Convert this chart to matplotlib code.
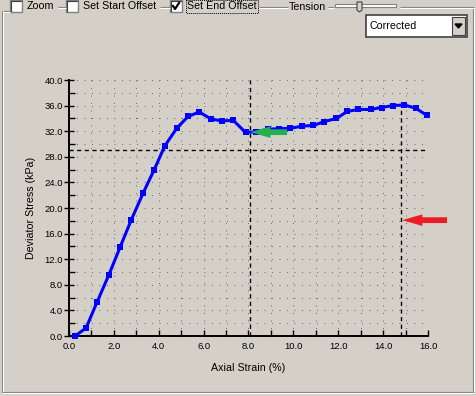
import matplotlib
matplotlib.use("Agg")
import matplotlib.pyplot as plt
from matplotlib.patches import Rectangle, Polygon, FancyArrow
from matplotlib.ticker import MultipleLocator, FormatStrFormatter

# Axial strain (%) and deviator stress (kPa)
strain = [0.27, 0.76, 1.25, 1.77, 2.28, 2.77, 3.30, 3.80, 4.27, 4.81, 5.31,
          5.80, 6.34, 6.83, 7.32, 7.87, 8.35, 8.86, 9.38, 9.87, 10.40, 10.89,
          11.38, 11.92, 12.41, 12.90, 13.44, 13.93, 14.42, 14.94, 15.45, 15.94]
stress = [0.0, 1.25, 5.3, 9.5, 13.9, 18.1, 22.3, 26.0, 29.7, 32.5, 34.3,
          35.0, 33.9, 33.6, 33.7, 31.8, 31.9, 32.3, 32.4, 32.45, 32.8, 32.9,
          33.5, 34.0, 35.1, 35.4, 35.4, 35.7, 36.0, 36.1, 35.6, 34.5]

# reference (offset) lines
start_x = 8.08
end_x = 14.78
end_top = 36.0
level_y = 29.0
level_x_end = 15.88

# hand-drawn arrows: (tip_x, tip_y, tail_x)
green_arrow = (8.08, 31.85, 9.72)
red_arrow = (14.85, 18.1, 16.85)

BG = "#d4d0c8"
W, H = 477, 396

plt.rcParams["font.family"] = ["Liberation Sans", "DejaVu Sans"]

fig = plt.figure(figsize=(W / 100, H / 100), dpi=100, facecolor=BG)

# --- dialog chrome in pixel coordinates ---
ui = fig.add_axes([0, 0, 1, 1], zorder=0)
ui.set_xlim(0, W)
ui.set_ylim(H, 0)
ui.axis("off")
ui.set_facecolor(BG)


def hline(x0, x1, y):
    ui.plot([x0, x1], [y, y], color="#808080", lw=0.8, solid_capstyle="butt")
    ui.plot([x0, x1], [y + 1, y + 1], color="white", lw=0.8, solid_capstyle="butt")


def vline(x, y0, y1):
    ui.plot([x, x], [y0, y1], color="#808080", lw=0.8, solid_capstyle="butt")
    ui.plot([x + 1, x + 1], [y0, y1], color="white", lw=0.8, solid_capstyle="butt")


# group box
hline(2, 10, 11)
vline(2, 11, 392)
hline(2, 474, 392)
vline(473, 7, 392)
hline(58, 66, 7)
hline(160, 170, 7)
hline(259, 288, 7)
hline(328, 334, 7)
hline(400, 474, 7)


def checkbox(x, y, checked=False):
    ui.add_patch(Rectangle((x, y), 12, 12, facecolor="white", edgecolor="#808080", lw=1))
    ui.plot([x + 1, x + 1, x + 11], [y + 11, y + 1, y + 1], color="#404040", lw=0.8)
    if checked:
        ui.plot([x + 3, x + 5, x + 9], [y + 6, y + 9, y + 3], color="black", lw=1.6)


checkbox(10, 0)
ui.text(27, 6, "Zoom", fontsize=7.7, va="center", ha="left")
checkbox(66, 0)
ui.text(83, 6, "Set Start Offset", fontsize=7.7, va="center", ha="left")
checkbox(170, 0, checked=True)
ui.text(187, 6, "Set End Offset", fontsize=7.7, va="center", ha="left")
ui.add_patch(Rectangle((186, 0), 72, 13, facecolor="none", edgecolor="black",
                       lw=0.7, linestyle=(0, (1, 1))))
ui.text(289, 7, "Tension", fontsize=7.7, va="center", ha="left")

# slider
ui.add_patch(Rectangle((335, 4), 61, 3, facecolor="white", edgecolor="#808080", lw=0.8))
ui.add_patch(Polygon([(357, 2), (362, 2), (362, 10), (359.5, 12), (357, 10)],
                     closed=True, facecolor=BG, edgecolor="#404040", lw=0.8))

# combo box
ui.add_patch(Rectangle((366, 15), 101, 22, facecolor="white", edgecolor="#404040", lw=1.2))
ui.add_patch(Rectangle((452, 17), 13, 18, facecolor=BG, edgecolor="#404040", lw=0.8))
ui.add_patch(Polygon([(455, 24), (462, 24), (458.5, 28)], closed=True, color="black"))
ui.text(370, 26, "Corrected", fontsize=7.7, va="center", ha="left")

# --- chart ---
x0, x1, yb, yt = 69, 428, 336, 80
ax = fig.add_axes([x0 / W, 1 - yb / H, (x1 - x0) / W, (yb - yt) / H], zorder=1)
ax.set_facecolor("none")
ax.set_xlim(0, 16)
ax.set_ylim(0, 40)

for s in ["top", "right"]:
    ax.spines[s].set_visible(False)
for s in ["left", "bottom"]:
    ax.spines[s].set_linewidth(1.4)

ax.xaxis.set_major_locator(MultipleLocator(2))
ax.xaxis.set_minor_locator(MultipleLocator(1))
ax.yaxis.set_major_locator(MultipleLocator(4))
ax.yaxis.set_minor_locator(MultipleLocator(2))
ax.xaxis.set_major_formatter(FormatStrFormatter("%.1f"))
ax.yaxis.set_major_formatter(FormatStrFormatter("%.1f"))
ax.tick_params(axis="x", which="both", direction="in", length=4, width=1, labelsize=6.8, pad=4)
ax.tick_params(axis="y", which="major", direction="inout", length=7, width=1, labelsize=6.8, pad=1)
ax.tick_params(axis="y", which="minor", direction="in", length=4, width=1)

ax.grid(True, which="both", color="#707070", lw=0.72, linestyle=(0, (1, 6.5)))

ax.set_xlabel("Axial Strain (%)", fontsize=7.7, labelpad=9)
ax.set_ylabel("Deviator Stress (kPa)", fontsize=7.7, labelpad=6)

dash = (0, (3, 2.5))
ax.plot([start_x, start_x], [0, 40], color="black", lw=1.0, linestyle=dash, zorder=3)
ax.plot([0, level_x_end], [level_y, level_y], color="black", lw=1.0, linestyle=dash, zorder=3)
ax.plot([end_x, end_x], [0, end_top], color="black", lw=1.0, linestyle=dash, zorder=3)

ax.plot(strain, stress, color="#0000ff", lw=2.2, marker="s", markersize=5,
        markeredgewidth=0, zorder=4, clip_on=False)

for (tx, ty, tail), col in [(green_arrow, "#22b14c"), (red_arrow, "#ed1c24")]:
    ax.add_patch(FancyArrow(tail, ty, tx - tail, 0, width=0.9, head_width=1.8,
                            head_length=0.9, length_includes_head=True,
                            color=col, lw=0, zorder=5, clip_on=False))

fig.savefig("out.png", dpi=100, facecolor=BG)
